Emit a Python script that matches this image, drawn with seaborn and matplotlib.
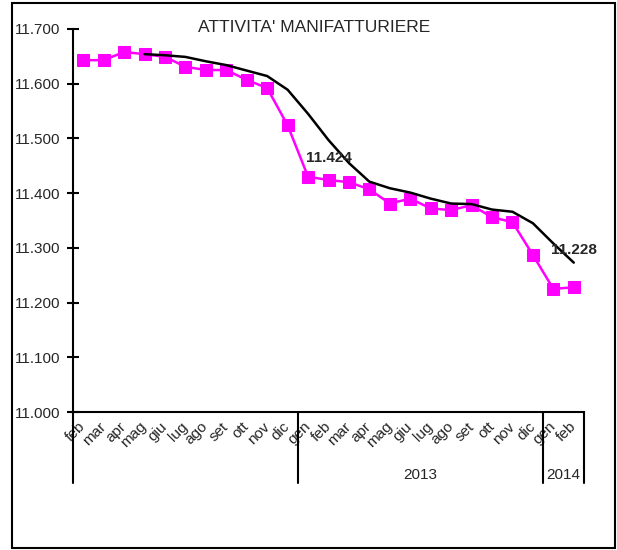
import numpy as np
import pandas as pd
import seaborn as sns
import matplotlib.pyplot as plt
import matplotlib.transforms as mtransforms
from matplotlib.ticker import FuncFormatter
from matplotlib.patches import Rectangle

# monthly data, feb 2012 - feb 2014 (thousands)
months = ['feb', 'mar', 'apr', 'mag', 'giu', 'lug', 'ago', 'set', 'ott', 'nov', 'dic',
          'gen', 'feb', 'mar', 'apr', 'mag', 'giu', 'lug', 'ago', 'set', 'ott', 'nov', 'dic',
          'gen', 'feb']
occupati = [11643, 11643, 11658, 11654, 11649, 11631, 11625, 11625, 11607, 11592, 11524,
            11430, 11424, 11420, 11407, 11381, 11390, 11372, 11369, 11378, 11356, 11347, 11287,
            11225, 11228]
media_mobile = [np.nan, np.nan, np.nan, 11654, 11652, 11649, 11641, 11634, 11624, 11614, 11589,
                11545, 11497, 11455, 11421, 11409, 11401, 11390, 11381, 11380, 11370, 11366, 11345,
                11308, 11273]
year_labels = ['2013', '2014']
year_bounds = [-0.5, 10.5, 22.5, 24.5]
labelled = [12, 24]

sns.set_style("white")
plt.rcParams['font.family'] = ['Liberation Sans', 'DejaVu Sans']

fig = plt.figure(figsize=(6.17, 5.5), dpi=100)
ax = fig.add_axes([73/617, 1-412/550, (584-73)/617, (412-29)/550])

df = pd.DataFrame({'x': np.arange(len(months)), 'occupati': occupati, 'media': media_mobile})
sns.lineplot(data=df, x='x', y='occupati', color='#FF00FF', lw=1.8, marker='s',
             markersize=9, markeredgecolor='#FF00FF', ax=ax, zorder=2)
sns.lineplot(data=df, x='x', y='media', color='black', lw=1.8, ax=ax, zorder=3)

ax.set_xlim(-0.5, len(months) - 0.5)
ax.set_ylim(11000, 11700)
ax.set_yticks(range(11000, 11701, 100))
ax.yaxis.set_major_formatter(FuncFormatter(lambda v, p: f"{v:,.0f}".replace(',', '.')))
ax.set_xticks(df['x'])
ax.set_xticklabels(months, rotation=45, ha='right', va='center', rotation_mode='anchor')
ax.tick_params(axis='x', bottom=False, length=0, pad=9, labelsize=11)
ax.tick_params(axis='y', left=True, direction='inout', length=8, width=1.5, pad=5,
               labelsize=11, color='black')
ax.set_xlabel('')
ax.set_ylabel('')
for s in ['top', 'right']:
    ax.spines[s].set_visible(False)
for s in ['left', 'bottom']:
    ax.spines[s].set_linewidth(1.5)
    ax.spines[s].set_color('black')

# year separators and labels under the axis
trans = mtransforms.blended_transform_factory(ax.transData, ax.transAxes)
for b in year_bounds:
    ax.plot([b, b], [0, -0.185], color='black', lw=1.5, transform=trans, clip_on=False)
for i, lab in enumerate(year_labels):
    mid = (year_bounds[i + 1] + year_bounds[i + 2]) / 2
    ax.text(mid, -0.165, lab, transform=trans, ha='center', va='center', fontsize=11)

# value labels
for i, dy in zip(labelled, [22, 37]):
    ax.annotate(f"{occupati[i]:,}".replace(',', '.'), (i, occupati[i]), xytext=(0, dy),
                textcoords='offset pixels', ha='center', va='center',
                fontsize=11, fontweight='bold')

fig.text(314/617, 1-28/550, "ATTIVITA' MANIFATTURIERE", ha='center', va='center', fontsize=12.5)
fig.add_artist(Rectangle((12/617, 2/550), (615-12)/617, (548-3)/550,
                         transform=fig.transFigure, fill=False, ec='black', lw=1.5))

fig.savefig('out.png', dpi=100)
